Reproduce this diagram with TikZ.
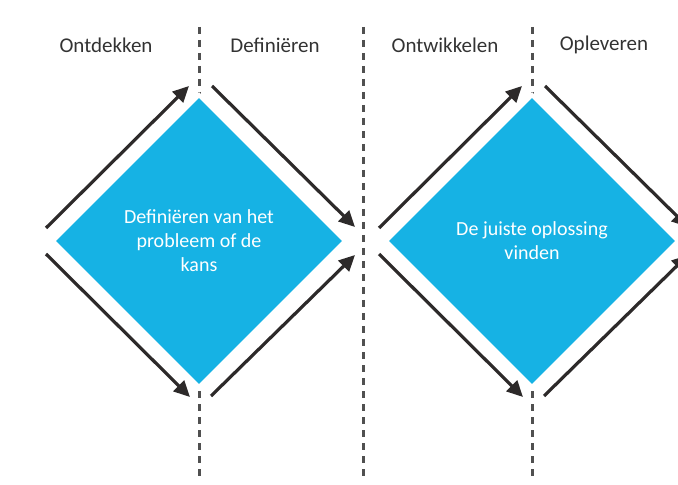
\documentclass[tikz,border=0pt]{standalone}
\usepackage{fontspec}
\setmainfont{Carlito}
\usetikzlibrary{shapes.geometric, arrows.meta}
\definecolor{phaseblue}{RGB}{22,178,228}
\definecolor{arrowgray}{RGB}{45,42,42}
\definecolor{linegray}{RGB}{80,80,80}

\begin{document}
\begin{tikzpicture}[x=0.5pt, y=-0.5pt,
	phase/.style={diamond, aspect=1, fill=phaseblue, draw=white, line width=2pt, minimum width=146pt, minimum height=146pt, inner sep=0pt, outer sep=0pt, text=white, align=center, font=\fontsize{10}{12}\selectfont},
	header/.style={text=black!80, font=\fontsize{10.5}{12}\selectfont},
	divider/.style={linegray, line width=1.5pt, dash pattern=on 3.5pt off 3pt},
	flow/.style={arrowgray, line width=1.6pt, -{Triangle[length=8pt, width=7.5pt]}}]
			\useasboundingbox (0,0) rectangle (678,485);
			
			% fase-grenzen
			\foreach \xpos in {199, 363, 532}
				\draw[divider] (\xpos,27) -- (\xpos,482);
			
			\node[header] (ontdekken) at (106,45) {Ontdekken};
			\node[header] (definieren) at (275,45) {Definiëren};
			\node[header] (ontwikkelen) at (445,45) {Ontwikkelen};
			\node[header] (opleveren) at (604,45) {Opleveren};
			
			\node[phase] (probleem) at (199,241) {Definiëren van het\\probleem of de\\kans};
			\node[phase] (oplossing) at (532,241) {De juiste oplossing\\vinden};
			
			% divergeren en convergeren
			\draw[flow] ([shift={(-7,-13)}]probleem.west) -- ([shift={(-10,-9)}]probleem.north);
			\draw[flow] ([shift={(-7,13)}]probleem.west) -- ([shift={(-9,10)}]probleem.south);
			\draw[flow] ([shift={(13,-9)}]probleem.north) -- ([shift={(10,-14)}]probleem.east);
			\draw[flow] ([shift={(12,9)}]probleem.south) -- ([shift={(10,14)}]probleem.east);
			
			\draw[flow] ([shift={(-7,-13)}]oplossing.west) -- ([shift={(-10,-9)}]oplossing.north);
			\draw[flow] ([shift={(-7,13)}]oplossing.west) -- ([shift={(-9,10)}]oplossing.south);
			\draw[flow] ([shift={(13,-9)}]oplossing.north) -- ([shift={(10,-14)}]oplossing.east);
			\draw[flow] ([shift={(12,9)}]oplossing.south) -- ([shift={(10,14)}]oplossing.east);
\end{tikzpicture}
\end{document}
